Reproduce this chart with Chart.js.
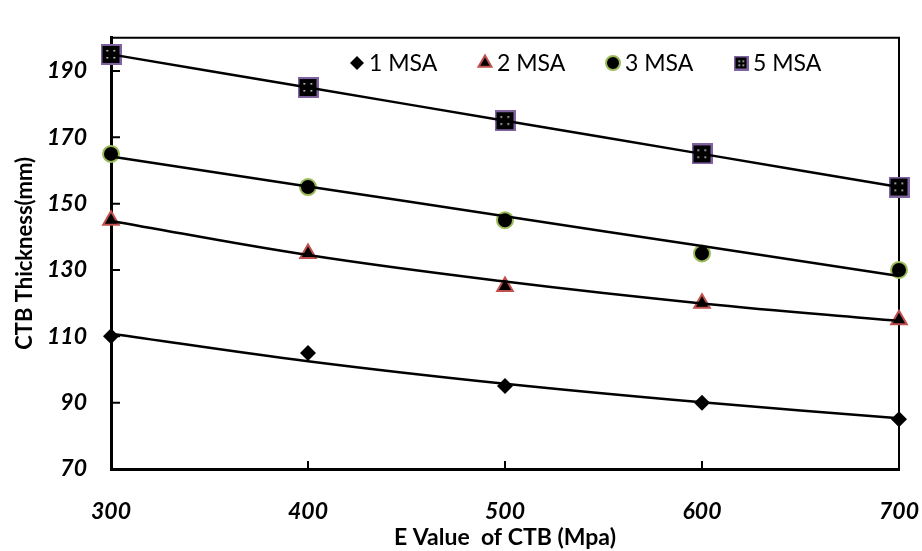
<!DOCTYPE html>
<html>
<head>
<meta charset="utf-8">
<script src="https://cdn.jsdelivr.net/npm/chart.js"></script>
<style>
  html, body { margin: 0; padding: 0; background: #fff; }
  #wrap { width: 922px; height: 551px; }
</style>
</head>
<body>
<div id="wrap"><canvas id="chart"></canvas></div>
<script>
// ── data ──────────────────────────────────────────────────
const xValues = [300, 400, 500, 600, 700];
const msa1 = [110, 105, 95, 90, 85];
const msa2 = [145, 135, 125, 120, 115];
const msa3 = [165, 155, 145, 135, 130];
const msa5 = [195, 185, 175, 165, 155];
// trend lines (values where the drawn curves cross each E value)
const trend1 = [110.8, 102.5, 95.7, 90.1, 85.3];
const trend2 = [144.8, 134.5, 126.5, 119.9, 114.6];
const trend3 = [164.2, 155.2, 146.2, 137.2, 128.2];
const trend5 = [195, 185, 175, 165, 155];
const seriesNames = ['1 MSA', '2 MSA', '3 MSA', '5 MSA'];
const xTicks = [300, 400, 500, 600, 700];
const yTicks = [70, 90, 110, 130, 150, 170, 190];

const FONT = 'Lato';

function pts(ys) { return xValues.map((x, i) => ({ x: x, y: ys[i] })); }

// black square with purple rim and white dots (5 MSA marker)
function squareMarker(size) {
  const c = document.createElement('canvas');
  c.width = c.height = size;
  const g = c.getContext('2d');
  g.fillStyle = '#8064A2';
  g.fillRect(0, 0, size, size);
  g.fillStyle = '#000';
  g.fillRect(2, 2, size - 4, size - 4);
  g.fillStyle = '#fff';
  const a = Math.round(size * 0.3), b = Math.round(size * 0.62);
  [[a, a], [b, a], [a, b], [b, b]].forEach(p => g.fillRect(p[0], p[1], 1.5, 1.5));
  return c;
}

const markerSets = [
  { label: seriesNames[0], data: pts(msa1), pointStyle: 'rectRot', pointRadius: 8,
    pointBackgroundColor: '#000', pointBorderColor: '#000', pointBorderWidth: 0,
    legendStyle: 'rectRot', legendRadius: 7 },
  { label: seriesNames[1], data: pts(msa2), pointStyle: 'triangle', pointRadius: 9,
    pointBackgroundColor: '#000', pointBorderColor: '#C0504D', pointBorderWidth: 2,
    legendStyle: 'triangle', legendRadius: 7.5 },
  { label: seriesNames[2], data: pts(msa3), pointStyle: 'circle', pointRadius: 8,
    pointBackgroundColor: '#000', pointBorderColor: '#9BBB59', pointBorderWidth: 2,
    legendStyle: 'circle', legendRadius: 7 },
  { label: seriesNames[3], data: pts(msa5), pointStyle: squareMarker(21), pointRadius: 10,
    pointBackgroundColor: '#000', pointBorderColor: '#8064A2', pointBorderWidth: 0,
    legendStyle: squareMarker(15), legendRadius: 7 }
].map(d => Object.assign(d, { isMarker: true, showLine: false, order: 1, clip: false }));

const trendSets = [trend1, trend2, trend3, trend5].map(t => ({
  label: '', data: pts(t), showLine: true, pointRadius: 0, borderColor: '#000',
  borderWidth: 2.5, tension: 0.4, order: 0, clip: false
}));

// frame on top/right and inward tick marks
const framePlugin = {
  id: 'frame',
  beforeDatasetsDraw(chart) {
    const { ctx, chartArea: a, scales: { x, y } } = chart;
    ctx.save();
    ctx.strokeStyle = '#000';
    ctx.lineWidth = 2;
    ctx.beginPath();
    ctx.moveTo(a.left, a.top);
    ctx.lineTo(a.right, a.top);
    ctx.lineTo(a.right, a.bottom);
    y.ticks.forEach(t => {
      if (t.value <= y.min) return;
      const py = y.getPixelForValue(t.value);
      ctx.moveTo(a.left, py);
      ctx.lineTo(a.left + 9, py);
    });
    x.ticks.forEach(t => {
      if (t.value <= x.min || t.value >= x.max) return;
      const px = x.getPixelForValue(t.value);
      ctx.moveTo(px, a.bottom);
      ctx.lineTo(px, a.bottom - 8);
    });
    ctx.stroke();
    ctx.restore();
  }
};

// legend inside the plot
const legendPlugin = {
  id: 'msaLegend',
  afterDatasetsDraw(chart) {
    const ctx = chart.ctx;
    const sets = chart.data.datasets.filter(d => d.isMarker);
    ctx.save();
    ctx.font = '23px ' + FONT;
    ctx.textBaseline = 'middle';
    sets.forEach((d, i) => {
      const cx = 357 + i * 128, cy = 63;
      ctx.fillStyle = d.pointBackgroundColor;
      ctx.strokeStyle = d.pointBorderColor;
      ctx.lineWidth = d.pointBorderWidth;
      Chart.helpers.drawPoint(ctx, {
        pointStyle: d.legendStyle, radius: d.legendRadius,
        borderWidth: d.pointBorderWidth, rotation: 0
      }, cx, cy);
      ctx.fillStyle = '#000';
      ctx.fillText(d.label, cx + 12, cy + 1);
    });
    ctx.restore();
  }
};

new Chart(document.getElementById('chart'), {
  type: 'scatter',
  data: { datasets: markerSets.concat(trendSets) },
  plugins: [framePlugin, legendPlugin],
  options: {
    responsive: true,
    maintainAspectRatio: false,
    animation: false,
    layout: { padding: { top: 11, right: 23, left: 0, bottom: 0 } },
    plugins: { legend: { display: false }, tooltip: { enabled: false } },
    scales: {
      x: {
        type: 'linear', min: 300, max: 700,
        afterBuildTicks: s => { s.ticks = xTicks.map(v => ({ value: v })); },
        afterFit: s => { s.height = 82; s.paddingRight = 23; },
        grid: { display: false, drawTicks: false },
        border: { display: true, color: '#000', width: 3 },
        ticks: { padding: 29, color: '#000', font: { family: FONT, size: 23, weight: 'bold', style: 'italic' } },
        title: { display: true, text: 'E Value  of CTB (Mpa)', color: '#000',
                 font: { family: FONT, size: 23, weight: 'bold' }, padding: { top: 0, bottom: 0 } }
      },
      y: {
        type: 'linear', min: 70, max: 200,
        afterBuildTicks: s => { s.ticks = yTicks.map(v => ({ value: v })); },
        afterFit: s => { s.width = 111; },
        grid: { display: false, drawTicks: false },
        border: { display: true, color: '#000', width: 3 },
        ticks: { padding: 24, color: '#000', font: { family: FONT, size: 23, weight: 'bold', style: 'italic' } },
        title: { display: true, text: 'CTB Thickness(mm)', color: '#000',
                 font: { family: FONT, size: 22, weight: 'bold' }, padding: { top: 12, bottom: 0 } }
      }
    }
  }
});
</script>
</body>
</html>
